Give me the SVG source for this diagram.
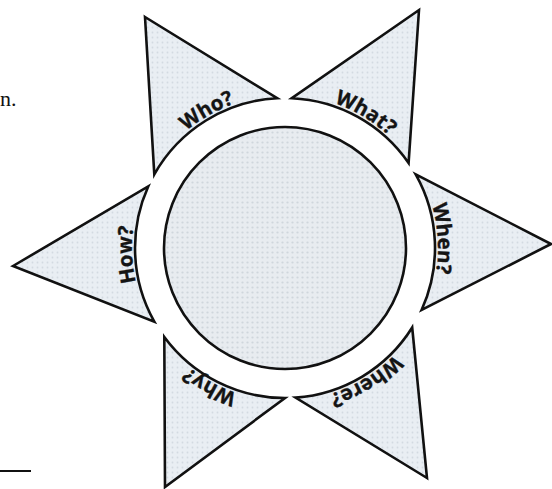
<svg xmlns="http://www.w3.org/2000/svg" xmlns:xlink="http://www.w3.org/1999/xlink" width="552" height="489" viewBox="0 0 552 489">
  <style>
    .ray { fill: url(#dots); stroke: #111; stroke-width: 2.6; stroke-linejoin: miter; }
    .hub { fill: url(#dots2); stroke: #111; stroke-width: 2.6; }
    .lbl { font-family: "Open Sans", "Liberation Sans", sans-serif; font-weight: 700; font-size: 20.5px; fill: #141414; stroke: #141414; stroke-width: 0.35; }
    .side { font-family: "Liberation Serif", serif; font-size: 22px; fill: #111; }
  </style>
  <defs>
    <pattern id="dots" width="5" height="5" patternUnits="userSpaceOnUse">
      <rect width="5" height="5" fill="#e9eef3"/>
      <circle cx="2.5" cy="2.5" r="0.9" fill="#d3dae1"/>
    </pattern>
    <pattern id="dots2" width="5" height="5" patternUnits="userSpaceOnUse">
      <rect width="5" height="5" fill="#e8ecf0"/>
      <circle cx="2.5" cy="2.5" r="1.1" fill="#cfd6dc"/>
    </pattern>
    <path id="ring" d="M285,401 A153,153 0 1 1 285,95 A153,153 0 1 1 285,401"/>
  </defs>

  <rect width="552" height="489" fill="#ffffff"/>

  <g id="side-text">
    <text class="side" x="0" y="106">n.</text>
    <line x1="0" y1="471" x2="31" y2="471" stroke="#111" stroke-width="2"/>
  </g>

  <g id="connectors"></g>

  <g id="center-circle">
    <circle class="hub" cx="285" cy="248" r="121"/>
  </g>

  <g id="who">
    <path class="ray" d="M145,17 L277.2,98.2 A150,150 0 0 0 154.3,174.4 Z"/>
    <text class="lbl" text-anchor="middle"><textPath xlink:href="#ring" href="#ring" startOffset="401.1">Who?</textPath></text>
  </g>

  <g id="what">
    <path class="ray" d="M419,10 L408.6,163 A150,150 0 0 0 291.8,98.2 Z"/>
    <text class="lbl" text-anchor="middle"><textPath xlink:href="#ring" href="#ring" startOffset="562.6">What?</textPath></text>
  </g>

  <g id="when">
    <path class="ray" d="M551,244 L421.6,310 A150,150 0 0 0 415.7,174.4 Z"/>
    <text class="lbl" text-anchor="middle"><textPath xlink:href="#ring" href="#ring" startOffset="711.4">When?</textPath></text>
  </g>

  <g id="where">
    <path class="ray" d="M427,478 L295.5,397.6 A150,150 0 0 0 412.2,327.5 Z"/>
    <text class="lbl" text-anchor="middle"><textPath xlink:href="#ring" href="#ring" startOffset="877.2">Where?</textPath></text>
  </g>

  <g id="why">
    <path class="ray" d="M165,487 L164.3,337 A150,150 0 0 0 285,398 Z"/>
    <text class="lbl" text-anchor="middle"><textPath xlink:href="#ring" href="#ring" startOffset="76.1">Why?</textPath></text>
  </g>

  <g id="how">
    <path class="ray" d="M13,266 L148.2,186.5 A150,150 0 0 0 154.3,321.6 Z"/>
    <text class="lbl" text-anchor="middle"><textPath xlink:href="#ring" href="#ring" startOffset="233.7">How?</textPath></text>
  </g>
</svg>
